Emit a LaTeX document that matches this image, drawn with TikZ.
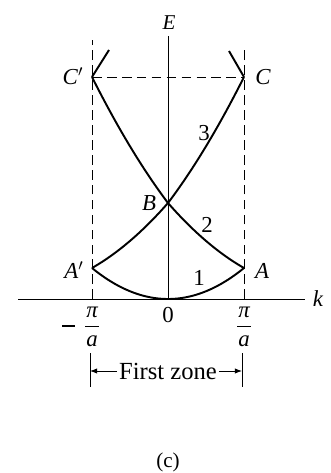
\documentclass[tikz,border=0pt]{standalone}
\usepackage{fontspec}
\setmainfont{Liberation Serif}
\usetikzlibrary{arrows.meta}
\begin{document}
\begin{tikzpicture}[x=0.02cm,y=-0.02cm,
  axis/.style={line width=0.5pt},
  band/.style={line width=1.1pt},
  guide/.style={line width=0.5pt,dash pattern=on 5.5pt off 3pt},
  lbl/.style={font=\fontsize{13}{15}\selectfont\itshape,inner sep=0pt},
  num/.style={font=\fontsize{13}{15}\selectfont,inner sep=0pt},
  zone/.style={line width=0.5pt,-{Latex[length=4pt,width=3pt]}}]
\useasboundingbox (0,0) rectangle (331,473);
% key points
\coordinate (O) at (168,299);
\coordinate (A) at (244,268);
\coordinate (Ap) at (92,268);
\coordinate (B) at (168,203);
\coordinate (C) at (244,77);
\coordinate (Cp) at (92,77);
\coordinate (Ctop) at (229,51);
\coordinate (Cptop) at (109,50);
\coordinate (Etop) at (168,36);
\coordinate (kl) at (18,299);
\coordinate (kr) at (305,299);
\coordinate (dlt) at (92,40);
\coordinate (dlb) at (92,299);
\coordinate (drt) at (244,47);
\coordinate (drb) at (244,299);
% axes
\draw[axis] (kl) -- (kr);
\draw[axis] (O) -- (Etop);
\node[font=\fontsize{12}{14}\selectfont\itshape,inner sep=0pt] (Elbl) at (169,23) {E};
\node[lbl] (klbl) at (318,299) {k};
% zone boundaries
\draw[guide] (dlb) -- (dlt);
\draw[guide] (drb) -- (drt);
\draw[guide] (Cp) -- (C);
% bands
\draw[band] plot[domain=-1:1,samples=60] ({168+76*\x},{299-31*\x*\x});
\draw[band] plot[domain=0:1,samples=40] ({168+76*\x},{299-31-65*((2-\x)*(2-\x)-1)/3});
\draw[band] plot[domain=0:1,samples=40] ({168-76*\x},{299-31-65*((2-\x)*(2-\x)-1)/3});
\draw[band] plot[domain=0:1,samples=40] ({168+76*\x},{299-96-126*((2+\x)*(2+\x)-4)/5});
\draw[band] plot[domain=0:1,samples=40] ({168-76*\x},{299-96-126*((2+\x)*(2+\x)-4)/5});
\draw[band] (C) -- (Ctop);
\draw[band] (Cp) -- (Cptop);
% point labels
\node[lbl] (Clbl) at (263,77) {C};
\node[lbl] (Cplbl) at (73,76) {C\/$'$};
\node[lbl] (Blbl) at (149,203) {B};
\node[lbl] (Albl) at (262,271) {A};
\node[lbl] (Aplbl) at (74,270) {A\/$'$};
\node[num] (n3) at (204,133) {3};
\node[num] (n2) at (207,225) {2};
\node[num] (n1) at (199,278) {1};
\node[num] (zero) at (168,315) {0};
% fractions
\node[lbl] (pil) at (92,312) {π};
\node[lbl] (al) at (92,341) {a};
\coordinate (fl1) at (85,326);
\coordinate (fl2) at (99,326);
\draw[axis] (fl1) -- (fl2);
\coordinate (m1) at (62,326);
\coordinate (m2) at (75,326);
\draw[line width=0.8pt] (m1) -- (m2);
\node[lbl] (pir) at (244,312) {π};
\node[lbl] (ar) at (244,341) {a};
\coordinate (fr1) at (237,326);
\coordinate (fr2) at (251,326);
\draw[axis] (fr1) -- (fr2);
% first zone
\coordinate (zl1) at (90,353);
\coordinate (zl2) at (90,387);
\coordinate (zr1) at (242,353);
\coordinate (zr2) at (242,387);
\draw[axis] (zl1) -- (zl2);
\draw[axis] (zr1) -- (zr2);
\node[font=\fontsize{14}{16}\selectfont,inner sep=1pt] (fz) at (168,371) {First zone};
\coordinate (zla) at (90,371);
\coordinate (zra) at (242,371);
\draw[zone] (fz.west) -- (zla);
\draw[zone] (fz.east) -- (zra);
\node[font=\fontsize{12}{14}\selectfont,inner sep=0pt] (cap) at (168,462) {(c)};
\end{tikzpicture}
\end{document}
